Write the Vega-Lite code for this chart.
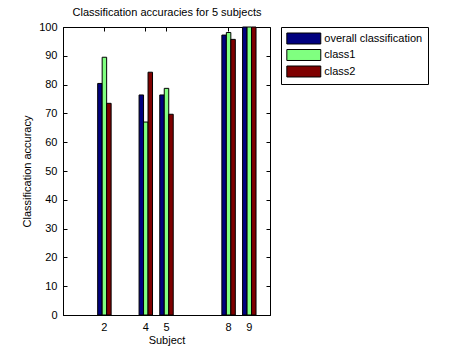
{
  "$schema": "https://vega.github.io/schema/vega-lite/v6.json",
  "autosize": {"type": "none"},
  "padding": {"left": 63, "top": 27, "right": 204, "bottom": 39},
  "width": 207,
  "height": 288,
  "background": "white",
  "config": {
    "view": {"stroke": "black", "strokeWidth": 1},
    "font": "Liberation Sans",
    "axis": {"labelFont": "Liberation Sans", "titleFont": "Liberation Sans", "labelFontSize": 11, "titleFontSize": 11, "titleFontWeight": "normal", "labelColor": "#000", "titleColor": "#000", "domainColor": "#000", "tickColor": "#000", "grid": false}
  },
  "data": {"values": [
    {"subject": 2, "series": "overall classification", "value": 80.4},
    {"subject": 2, "series": "class1", "value": 89.5},
    {"subject": 2, "series": "class2", "value": 73.5},
    {"subject": 4, "series": "overall classification", "value": 76.4},
    {"subject": 4, "series": "class1", "value": 67.0},
    {"subject": 4, "series": "class2", "value": 84.3},
    {"subject": 5, "series": "overall classification", "value": 76.4},
    {"subject": 5, "series": "class1", "value": 78.7},
    {"subject": 5, "series": "class2", "value": 69.7},
    {"subject": 8, "series": "overall classification", "value": 97.2},
    {"subject": 8, "series": "class1", "value": 98.1},
    {"subject": 8, "series": "class2", "value": 95.7},
    {"subject": 9, "series": "overall classification", "value": 100},
    {"subject": 9, "series": "class1", "value": 100},
    {"subject": 9, "series": "class2", "value": 100}
  ]},
  "layer": [
    {
      "mark": {"type": "bar", "stroke": "black", "strokeWidth": 1},
      "encoding": {
        "x": {"field": "subject", "type": "ordinal",
              "scale": {"type": "band", "domain": [1,2,3,4,5,6,7,8,9], "paddingInner": 0.35, "paddingOuter": 0.675},
              "axis": {"values": [2,4,5,8,9], "labelAngle": 0, "title": "Subject", "tickSize": -4, "labelPadding": 10, "titlePadding": 2}},
        "xOffset": {"field": "series", "type": "nominal", "scale": {"domain": ["overall classification", "class1", "class2"], "paddingInner": 0, "paddingOuter": 0}},
        "y": {"field": "value", "type": "quantitative",
              "scale": {"domain": [0, 100], "nice": false},
              "axis": {"values": [0,10,20,30,40,50,60,70,80,90,100], "title": "Classification accuracy", "tickSize": -4, "labelPadding": 10, "titlePadding": 6}},
        "color": {"field": "series", "type": "nominal",
                  "scale": {"domain": ["overall classification", "class1", "class2"], "range": ["#00007F", "#80FF80", "#7F0000"]},
                  "legend": {"orient": "none", "legendX": 218, "legendY": 0, "title": null,
                             "strokeColor": "black", "fillColor": "white", "padding": 5,
                             "symbolType": "M-3,-0.97H3V0.97H-3Z", "symbolSize": 128, "symbolOffset": 11.3,
                             "symbolStrokeColor": "black", "symbolStrokeWidth": 1, "symbolOpacity": 1,
                             "labelFontSize": 11, "labelFont": "Liberation Sans", "labelColor": "#000",
                             "labelOffset": 14, "rowPadding": 1.5}}
      }
    },
    {
      "mark": {"type": "bar", "opacity": 0},
      "encoding": {
        "x": {"field": "subject", "type": "ordinal",
              "axis": {"orient": "top", "values": [2,4,5,8,9], "labels": false, "title": "Classification accuracies for 5 subjects", "titlePadding": 9, "tickSize": -4, "domain": false}},
        "y": {"field": "value", "type": "quantitative",
              "axis": {"orient": "right", "values": [0,10,20,30,40,50,60,70,80,90,100], "labels": false, "title": null, "tickSize": -4, "domain": false}}
      }
    }
  ],
  "resolve": {"axis": {"x": "independent", "y": "independent"}}
}
